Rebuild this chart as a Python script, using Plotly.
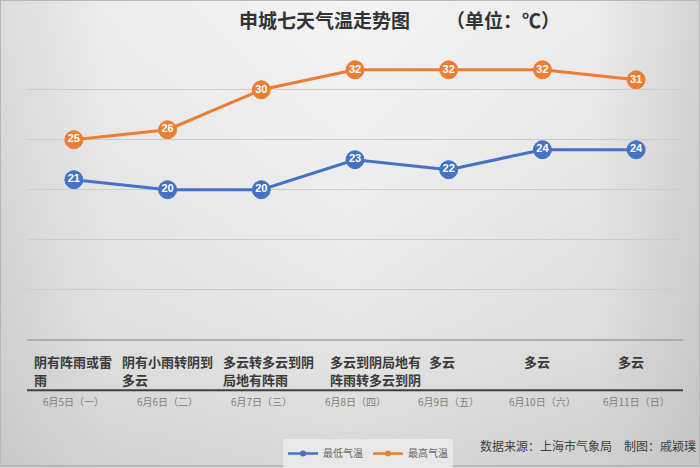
import plotly.graph_objects as go

# ---- data ----
dates = ["6月5日（一）", "6月6日（二）", "6月7日（三）", "6月8日（四）",
         "6月9日（五）", "6月10日（六）", "6月11日（日）"]
weather = ["阴有阵雨或雷<br>雨", "阴有小雨转阴到<br>多云", "多云转多云到阴<br>局地有阵雨",
           "多云到阴局地有<br>阵雨转多云到阴", "多云", "多云", "多云"]
low_temp = [21, 20, 20, 23, 22, 24, 24]
high_temp = [25, 26, 30, 32, 32, 32, 31]
series_names = ["最低气温", "最高气温"]
title_main = "申城七天气温走势图"
title_unit = "（单位：℃）"
source_text = "数据来源：上海市气象局　制图：戚颖璞"

# ---- styling ----
W, H = 700, 468
BLUE = "#4472C4"
ORANGE = "#ED7D31"
CJK = "Noto Sans CJK SC"
PL, PR, PT, PB = 27, 683, 40, 341   # plot area in pixels

def px(x):
    return x / W

def py(y):
    return (H - y) / H

xs = list(range(len(dates)))

# background gradient (styling only)
bg_x = [0, 0.15, 0.5, 0.85, 1]
bg_y = [0, 0.3, 0.65, 1]
bg_z = [
    [200, 210, 216, 208, 196],
    [208, 224, 230, 222, 202],
    [214, 231, 238, 230, 207],
    [220, 236, 244, 236, 212],
]

fig = go.Figure()

fig.add_trace(go.Heatmap(
    x=bg_x, y=bg_y, z=bg_z, zmin=0, zmax=255, zsmooth="best",
    colorscale=[[0, "rgb(0,0,0)"], [1, "rgb(255,255,255)"]],
    showscale=False, hoverinfo="skip", xaxis="x", yaxis="y",
))

for vals, color, name in [(low_temp, BLUE, series_names[0]), (high_temp, ORANGE, series_names[1])]:
    fig.add_trace(go.Scatter(
        x=xs, y=vals, mode="lines+markers", xaxis="x2", yaxis="y2",
        line=dict(color=color, width=3),
        marker=dict(size=18, color=color, line=dict(color=color, width=1)),
        showlegend=False, hoverinfo="skip", cliponaxis=False,
    ))
    fig.add_trace(go.Scatter(
        x=xs, y=vals, mode="text", text=[str(v) for v in vals],
        textposition="middle center", xaxis="x2", yaxis="y2",
        textfont=dict(color="white", size=11, family="Liberation Sans Narrow, Liberation Sans, Arial", weight="bold"),
        showlegend=False, hoverinfo="skip", cliponaxis=False,
    ))

# legend entries
for color, name in [(BLUE, series_names[0]), (ORANGE, series_names[1])]:
    fig.add_trace(go.Scatter(
        x=[None], y=[None], mode="lines+markers", name=name, xaxis="x2", yaxis="y2",
        line=dict(color=color, width=2.5), marker=dict(size=6, color=color),
    ))

annotations = [
    dict(text=title_main, x=px(237), y=py(20), xref="paper", yref="paper",
         xanchor="left", yanchor="middle", showarrow=False,
         font=dict(family=CJK, size=19, color="#333333", weight="bold")),
    dict(text=title_unit, x=px(444), y=py(20), xref="paper", yref="paper",
         xanchor="left", yanchor="middle", showarrow=False,
         font=dict(family=CJK, size=19, color="#333333", weight="bold")),
    dict(text=source_text, x=px(478), y=py(447), xref="paper", yref="paper",
         xanchor="left", yanchor="middle", showarrow=False,
         font=dict(family=CJK, size=12, color="#404040")),
]

col_left = [32, 120, 221, 328, 427, 522, 616]
line_y = [363, 381]
for i, w in enumerate(weather):
    for j, part in enumerate(w.split("<br>")):
        annotations.append(dict(
            text=part, x=px(col_left[i]), y=py(line_y[j]), xref="paper", yref="paper",
            xanchor="left", yanchor="middle", align="left", showarrow=False,
            font=dict(family=CJK, size=13, color="#3a3a3a", weight="bold"),
        ))
for i, d in enumerate(dates):
    annotations.append(dict(
        text=d, x=xs[i], y=py(403), xref="x2", yref="paper",
        xanchor="center", yanchor="middle", showarrow=False,
        font=dict(family=CJK, size=10, color="#808080"),
    ))

shapes = [
    dict(type="line", xref="paper", yref="paper", x0=px(PL), x1=px(PR), y0=py(PT), y1=py(PT),
         line=dict(color="#cccccc", width=1), layer="below"),
    dict(type="line", xref="paper", yref="paper", x0=px(PL), x1=px(PR), y0=py(341.5), y1=py(341.5),
         line=dict(color="#a0a0a0", width=1.5)),
    dict(type="line", xref="paper", yref="paper", x0=px(PL), x1=px(PR), y0=py(392), y1=py(392),
         line=dict(color="#404040", width=2)),
    dict(type="rect", xref="paper", yref="paper", x0=0, x1=1, y0=0, y1=1,
         line=dict(color="#b8b8b8", width=2), fillcolor="rgba(0,0,0,0)"),
]

fig.update_layout(
    width=W, height=H,
    margin=dict(l=0, r=0, t=0, b=0),
    paper_bgcolor="#dcdcdc",
    plot_bgcolor="rgba(0,0,0,0)",
    hovermode=False,
    xaxis=dict(domain=[0, 1], range=[0, 1], visible=False, fixedrange=True),
    yaxis=dict(domain=[0, 1], range=[0, 1], visible=False, fixedrange=True),
    xaxis2=dict(domain=[px(PL), px(PR)], range=[-0.5, 6.5], anchor="y2",
                showgrid=False, zeroline=False, showticklabels=False, ticks="", fixedrange=True),
    yaxis2=dict(domain=[py(PB), py(PT)], range=[5, 35], dtick=5, anchor="x2",
                showgrid=True, gridcolor="#cccccc", gridwidth=1,
                zeroline=False, showticklabels=False, ticks="", fixedrange=True),
    legend=dict(orientation="h", x=px(283), y=py(441), xanchor="left", yanchor="top",
                bgcolor="#e8e8e8", font=dict(family=CJK, size=10, color="#666666"),
                itemwidth=30, tracegroupgap=0),
    annotations=annotations,
    shapes=shapes,
)

fig.write_html("out.html", config={"displayModeBar": False},
               post_script="document.body.style.margin='0px';")
